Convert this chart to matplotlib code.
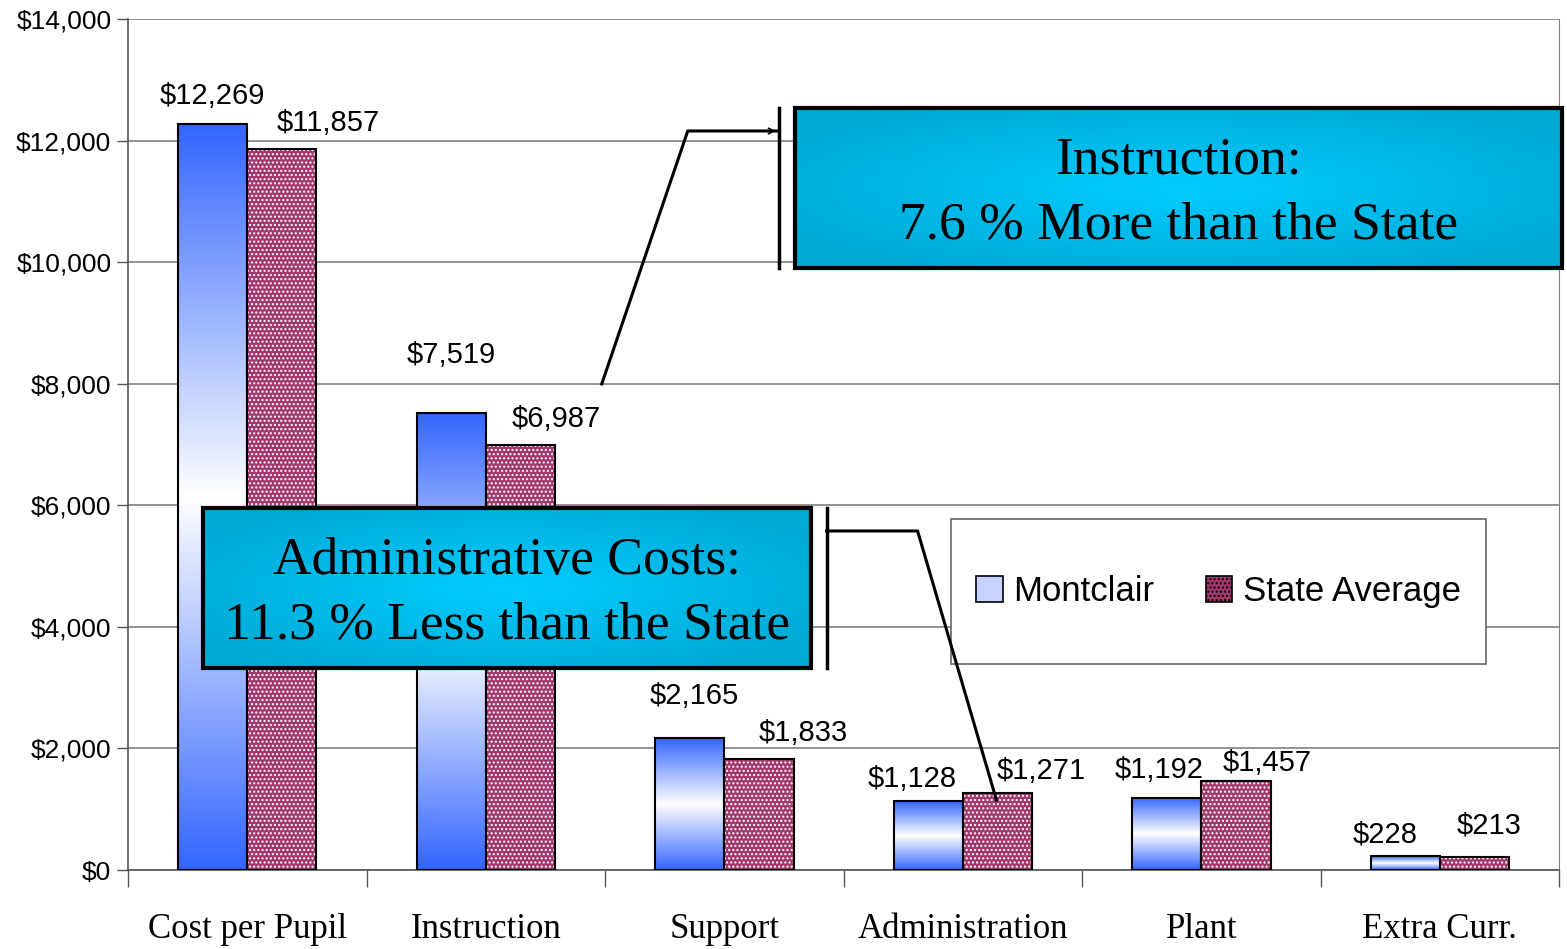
import numpy as np
import matplotlib.pyplot as plt
from matplotlib.patches import Rectangle, Patch
from matplotlib.colors import LinearSegmentedColormap

categories = ['Cost per Pupil', 'Instruction', 'Support', 'Administration', 'Plant', 'Extra Curr.']
montclair = [12269, 7519, 2165, 1128, 1192, 228]
state_avg = [11857, 6987, 1833, 1271, 1457, 213]
yticks = [0, 2000, 4000, 6000, 8000, 10000, 12000, 14000]

# label nudges in pixels (dx, dy) - the source chart places them a bit loosely
mont_nudge = [(0, 14), (0, 44), (5, 28), (-16, 8), (-8, 14), (-20, 8)]
state_nudge = [(46, 12), (36, 12), (44, 12), (44, 8), (31, 4), (15, 18)]

sans = 'Liberation Sans'
serif = 'Liberation Serif'
blue = '#3366ff'
maroon = '#a3386c'

plt.rcParams['hatch.linewidth'] = 1.0

fig = plt.figure(figsize=(15.67, 9.49), dpi=100)
ax = fig.add_axes([0.0817, 0.0832, 0.9133, 0.8968])

x = np.arange(len(categories))
w = 0.29

# gradient bars for Montclair (blue - white - blue)
cmap = LinearSegmentedColormap.from_list('bw', [blue, '#ffffff', blue])
grad = np.linspace(0, 1, 256).reshape(-1, 1)
mbars = ax.bar(x - w / 2, montclair, w, color='none', edgecolor='black', linewidth=1.5, zorder=3)
for b in mbars:
    im = ax.imshow(grad, cmap=cmap, aspect='auto', zorder=2,
                   extent=[b.get_x(), b.get_x() + b.get_width(), 0, b.get_height()])
    im.set_clip_path(b)

# dotted maroon bars for state average
ax.bar(x + w / 2, state_avg, w, color=maroon, edgecolor='white', hatch='....', linewidth=0, zorder=2)
ax.bar(x + w / 2, state_avg, w, color='none', edgecolor='black', linewidth=1.5, zorder=3)

ax.set_xlim(-0.5, len(categories) - 0.5)
ax.set_ylim(0, 14000)
ax.set_aspect('auto')

ax.set_yticks(yticks)
ax.set_yticklabels(['${:,}'.format(v) for v in yticks], fontfamily=sans, fontsize=19)
ax.yaxis.grid(True, color='#808080', linewidth=1.2)
ax.set_axisbelow(True)

ax.set_xticks(x)
ax.set_xticklabels(categories, fontfamily=serif, fontsize=25)
ax.set_xticks(np.arange(len(categories) + 1) - 0.5, minor=True)
ax.tick_params(axis='x', which='major', length=0, pad=31)
ax.tick_params(axis='x', which='minor', length=12, width=1, color='#555555')
ax.tick_params(axis='y', length=8, width=1, color='#555555', pad=4)

ax.spines['top'].set_visible(False)
ax.spines['right'].set_color('#808080')
ax.spines['left'].set_color('#555555')
ax.spines['bottom'].set_color('#555555')
ax.spines['left'].set_linewidth(1.2)
ax.spines['bottom'].set_linewidth(1.2)

# value labels
for i in range(len(categories)):
    dx, dy = mont_nudge[i]
    ax.annotate('${:,}'.format(montclair[i]), (x[i] - w / 2, montclair[i]),
                xytext=(dx * 0.72, dy * 0.72), textcoords='offset points',
                ha='center', va='bottom', fontfamily=sans, fontsize=21, zorder=5)
    dx, dy = state_nudge[i]
    ax.annotate('${:,}'.format(state_avg[i]), (x[i] + w / 2, state_avg[i]),
                xytext=(dx * 0.72, dy * 0.72), textcoords='offset points',
                ha='center', va='bottom', fontfamily=sans, fontsize=21, zorder=5)

# legend
ax.add_patch(Rectangle((0.575, 0.242), 0.374, 0.170, transform=ax.transAxes,
                       facecolor='white', edgecolor='#666666', linewidth=1.2, zorder=6))
handles = [Patch(facecolor='#c8d2ff', edgecolor='black', linewidth=1.2, label='Montclair'),
           Patch(facecolor=maroon, edgecolor='black', hatch='....', linewidth=1.2, label='State Average')]
leg = ax.legend(handles=handles, loc='center', bbox_to_anchor=(0.575, 0.242, 0.374, 0.170),
                ncol=2, frameon=False, prop={'family': sans, 'size': 25},
                handlelength=0.75, handleheight=0.75, handletextpad=0.3, columnspacing=1.5)
leg.set_zorder(7)

# callout boxes with a soft cyan gradient
yy, xx = np.mgrid[-1:1:120j, -1:1:300j]
rad = np.clip(np.sqrt(xx ** 2 + yy ** 2) / 1.2, 0, 1)
cyan = LinearSegmentedColormap.from_list('cy', ['#00ccff', '#00a9d4'])


def callout(x0, y0, x1, y1, text):
    ax.imshow(rad, cmap=cyan, extent=[x0, x1, y0, y1], transform=ax.transAxes,
              aspect='auto', zorder=8, clip_on=False)
    ax.add_patch(Rectangle((x0, y0), x1 - x0, y1 - y0, transform=ax.transAxes, fill=False,
                           edgecolor='black', linewidth=3, zorder=9, clip_on=False))
    ax.text((x0 + x1) / 2, (y0 + y1) / 2 - 0.006, text, transform=ax.transAxes, ha='center',
            va='center', fontfamily=serif, fontsize=38.5, linespacing=1.45, zorder=10)


callout(0.4658, 0.7074, 1.002, 0.8954, 'Instruction:\n7.6 % More than the State')
callout(0.0524, 0.2374, 0.4770, 0.4254, 'Administrative Costs:\n11.3 % Less than the State')

# connector lines
ax.plot([0.4546, 0.4546], [0.7074, 0.8954], color='black', lw=2.5, transform=ax.transAxes, zorder=9, clip_on=False)
ax.plot([0.3310, 0.3911, 0.4546], [0.5711, 0.8684, 0.8684], color='black', lw=2.2,
        transform=ax.transAxes, zorder=9, clip_on=False)
ax.annotate('', xy=(0.4546, 0.8684), xytext=(0.445, 0.8684), xycoords='axes fraction',
            arrowprops=dict(arrowstyle='->', lw=1.2, color='black'), zorder=9)

ax.plot([0.4881, 0.4881], [0.2374, 0.4254], color='black', lw=2.5, transform=ax.transAxes, zorder=9, clip_on=False)
ax.plot([0.4881, 0.5517, 0.6068], [0.3984, 0.3984, 0.0823], color='black', lw=2.2,
        transform=ax.transAxes, zorder=9, clip_on=False)

fig.savefig('out.png', dpi=100)
